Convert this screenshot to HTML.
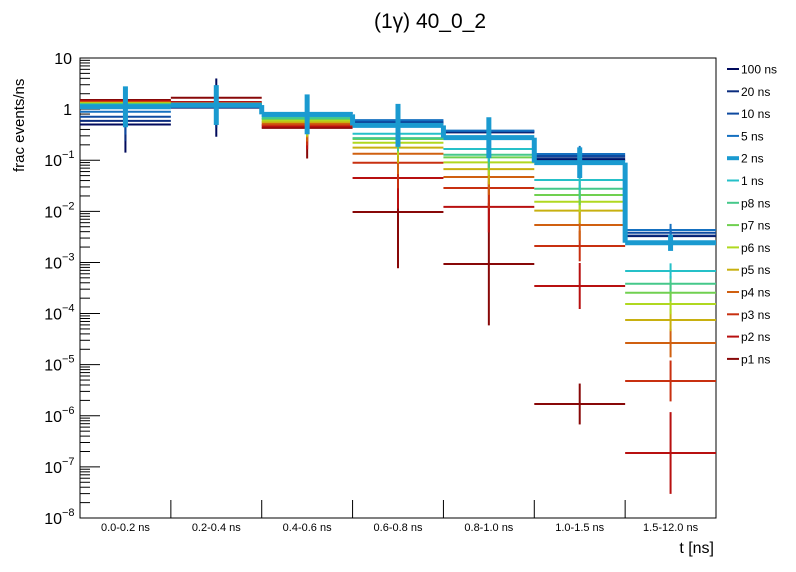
<!DOCTYPE html>
<html><head><meta charset="utf-8"><style>
html,body{margin:0;padding:0;background:#fff;}
svg{display:block;font-family:"Liberation Sans",sans-serif;}
</style></head><body>
<svg id="chart" width="796" height="572" viewBox="0 0 796 572">
<text x="430" y="28" text-anchor="middle" font-size="21">(1γ) 40_0_2</text>
<text transform="translate(24,172) rotate(-90)" text-anchor="start" font-size="15">frac events/ns</text>
<text x="714" y="553" text-anchor="end" font-size="16">t [ns]</text>
<rect x="80" y="58" width="636" height="460" fill="none" stroke="#000" stroke-width="1"/>
<g id="axes"></g>
<g id="series"></g>
<g id="legend"></g>
</svg>
<script>
const categories = ["0.0-0.2 ns","0.2-0.4 ns","0.4-0.6 ns","0.6-0.8 ns","0.8-1.0 ns","1.0-1.5 ns","1.5-12.0 ns"];
const seriesNames = ["100 ns","20 ns","10 ns","5 ns","2 ns","1 ns","p8 ns","p7 ns","p6 ns","p5 ns","p4 ns","p3 ns","p2 ns","p1 ns"];
const seriesColors = ["#000a5c","#0b2c7e","#0e4aa0","#1570c0","#1a9ad0","#25c0c8","#45c88a","#70d050","#b0d820","#c8b010","#d06010","#c83010","#b81010","#880808"];
const v100 = [0.50,1.07,0.84,0.53,0.35,0.101,0.00327];
const v20  = [0.59,1.09,0.84,0.55,0.36,0.109,0.00334];
const v10  = [0.71,1.10,0.84,0.57,0.37,0.121,0.00382];
const v5   = [0.89,1.11,0.84,0.61,0.38,0.132,0.00431];
const v2   = [1.11,1.20,0.79,0.48,0.276,0.0895,0.00243];
const v1   = [1.20,1.24,0.73,0.33,0.166,0.041,6.8e-4];
const vp8  = [1.24,1.25,0.67,0.27,0.128,0.0277,3.84e-4];
const vp7  = [1.26,1.26,0.64,0.26,0.114,0.0209,2.56e-4];
const vp6  = [1.29,1.27,0.60,0.22,0.091,0.0154,1.54e-4];
const vp5  = [1.32,1.28,0.56,0.176,0.067,0.0103,7.5e-5];
const vp4  = [1.35,1.30,0.52,0.134,0.047,0.0054,2.65e-5];
const vp3  = [1.38,1.32,0.49,0.089,0.0286,0.0021,4.8e-6];
const vp2  = [1.44,1.38,0.46,0.045,0.0122,3.46e-4,1.87e-7];
const vp1  = [1.51,1.67,0.43,0.0097,9.3e-4,1.7e-6,0];
const seriesValues = [v100,v20,v10,v5,v2,v1,vp8,vp7,vp6,vp5,vp4,vp3,vp2,vp1];
// error half-lengths in decades
const e100 = [0.55,0.57,0.3,0.2,0.2,0.15,0.1];
const e20  = [0.4,0.4,0.3,0.2,0.2,0.15,0.1];
const e10  = [0.35,0.35,0.3,0.2,0.2,0.15,0.1];
const e5   = [0.3,0.3,0.3,0.2,0.23,0.16,0.12];
const e2   = [0.4,0.39,0.39,0.42,0.4,0.3,0.16];
const e1   = [0.3,0.3,0.3,0.25,0.25,0.2,0.15];
const ep8  = [0.25,0.25,0.3,0.25,0.25,0.2,0.15];
const ep7  = [0.25,0.25,0.3,0.25,0.25,0.2,0.17];
const ep6  = [0.25,0.25,0.3,0.25,0.25,0.2,0.2];
const ep5  = [0.2,0.2,0.3,0.3,0.3,0.25,0.22];
const ep4  = [0.2,0.2,0.35,0.4,0.35,0.3,0.28];
const ep3  = [0.15,0.15,0.4,0.5,0.4,0.3,0.4];
const ep2  = [0.15,0.15,0.45,0.6,0.5,0.45,0.8];
const ep1  = [0.22,0.2,0.6,1.1,1.2,0.4,0];
const seriesErrors = [e100,e20,e10,e5,e2,e1,ep8,ep7,ep6,ep5,ep4,ep3,ep2,ep1];
const yTickExps = [1,0,-1,-2,-3,-4,-5,-6,-7,-8];
const yTickLabels = ["10","1","10","10","10","10","10","10","10","10"];
const yTickSups = ["","","−1","−2","−3","−4","−5","−6","−7","−8"];

const NS="http://www.w3.org/2000/svg";
const X0=80,X1=716,Y0=58,Y1=518,LMAX=1,LMIN=-8;
const nb=categories.length, bw=(X1-X0)/nb;
function xEdge(i){return X0+i*bw;}
function yPos(v){const l=Math.log10(v);return Y0+(LMAX-l)/(LMAX-LMIN)*(Y1-Y0);}
function yLog(l){return Y0+(LMAX-l)/(LMAX-LMIN)*(Y1-Y0);}
function mk(tag,attrs,parent){const e=document.createElementNS(NS,tag);for(const k in attrs)e.setAttribute(k,attrs[k]);parent.appendChild(e);return e;}
const axes=document.getElementById('axes');
// y ticks
for(let d=LMIN;d<LMAX;d++){
  for(let m=2;m<10;m++){
    const y=yLog(d+Math.log10(m));
    const t=mk('line',{x1:X0,x2:X0+10,y1:y,y2:y,stroke:'#000','stroke-width':1},axes);
    
    
  }
}
yTickExps.forEach((ex,i)=>{
  const y=yLog(ex);
  const t=mk('line',{x1:X0,x2:X0+20,y1:y,y2:y,stroke:'#000','stroke-width':1},axes);
  
  
  const tx=mk('text',{x:yTickSups[i]?62:72,y:y+6,'text-anchor':'end','font-size':16},axes);
  tx.textContent=yTickLabels[i];
  
  
  if(yTickSups[i]){
    const s=mk('text',{x:62,y:y-2,'text-anchor':'start','font-size':11},axes);
    s.textContent=yTickSups[i];
    
    
  }
});
// x ticks and labels
for(let i=1;i<nb;i++){
  const t=mk('line',{x1:xEdge(i),x2:xEdge(i),y1:Y1,y2:Y1-18,stroke:'#000','stroke-width':1},axes);
  
  
}
categories.forEach((c,i)=>{
  const t=mk('text',{x:xEdge(i)+bw/2,y:531,'text-anchor':'middle','font-size':11},axes);
  t.textContent=c;
  
  
});
// series
const sg=document.getElementById('series');
const order=[13,12,11,10,9,8,7,6,5,0,1,2,3,4];
order.forEach(si=>{
  const vals=seriesValues[si], errs=seriesErrors[si], col=seriesColors[si];
  const thick = si===4;
  const g=mk('g',{},sg);
  
  
  const sw=thick?5:2;
  vals.forEach((v,i)=>{
    if(!(v>0))return;
    const y=yPos(v);
    const h=mk('line',{x1:xEdge(i),x2:xEdge(i+1),y1:y,y2:y,stroke:col,'stroke-width':sw},g);
    
    
    const e=errs[i];
    if(e>0){
      const l=Math.log10(v);
      const ya=Math.max(Y0,yLog(l+e)), yb=Math.min(Y1,yLog(l-e));
      const cx=xEdge(i)+bw/2;
      const vl=mk('line',{x1:cx,x2:cx,y1:ya,y2:yb,stroke:col,'stroke-width':thick?5:2},g);
      
      
    }
    if(thick && i>0 && vals[i-1]>0){
      const c=mk('line',{x1:xEdge(i),x2:xEdge(i),y1:yPos(vals[i-1]),y2:y,stroke:col,'stroke-width':sw},g);
      
      
    }
  });
});
// legend
const lg=document.getElementById('legend');
seriesNames.forEach((n,i)=>{
  const y=69+i*22.3;
  const g=mk('g',{},lg);
  
  
  mk('line',{x1:727,x2:739,y1:y,y2:y,stroke:seriesColors[i],'stroke-width':i===4?4:2},g);
  const t=mk('text',{x:741,y:y+4.5,'font-size':12},g);
  t.textContent=n;
});
</script>
</body></html>
